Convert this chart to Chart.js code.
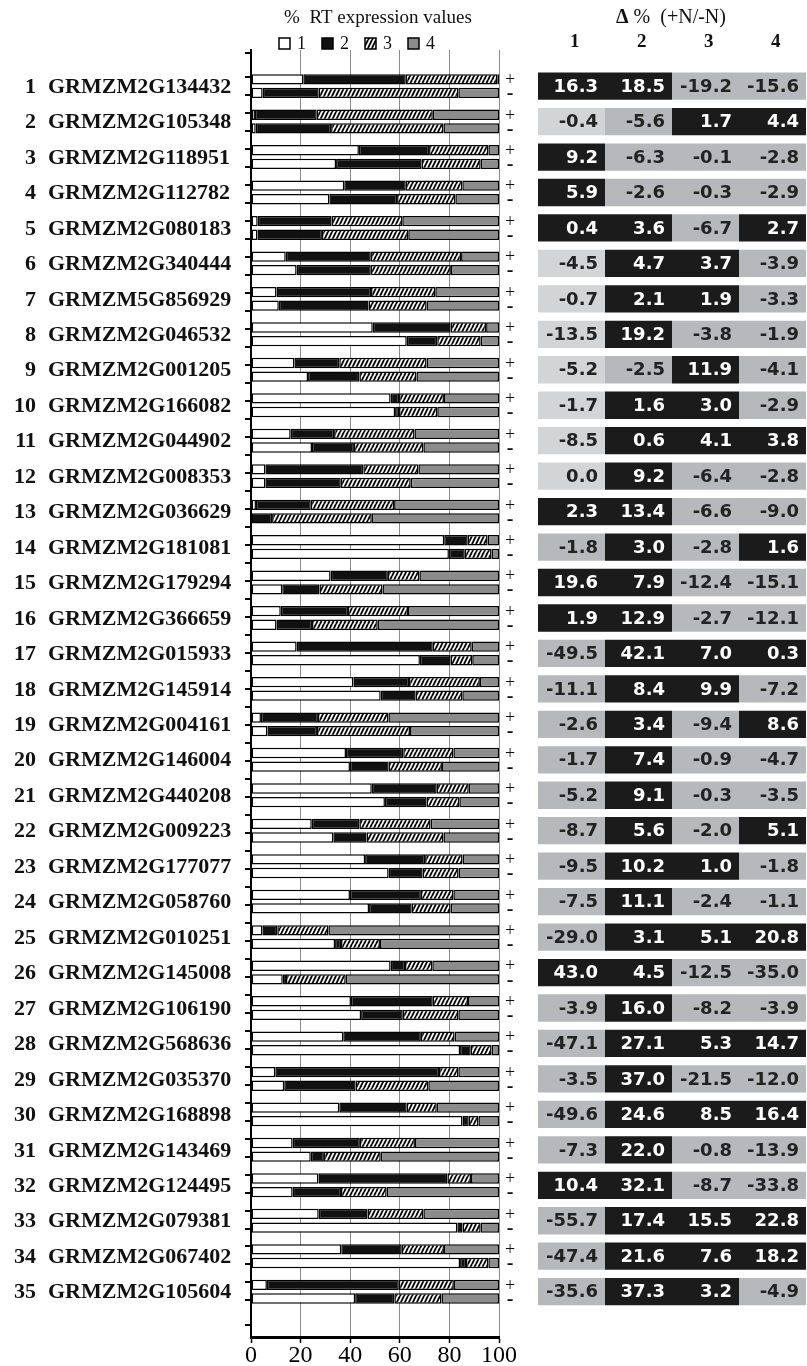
<!DOCTYPE html>
<html>
<head>
<meta charset="utf-8">
<script src="https://cdn.jsdelivr.net/npm/chart.js@4.4.0/dist/chart.umd.min.js"></script>
<style>
  html, body { margin: 0; padding: 0; background: #fff; }
  #wrap { position: relative; width: 807px; height: 1366px; }
  #bars { position: absolute; left: 0; top: 0; }
  #table { position: absolute; left: 535px; top: 0; }
</style>
</head>
<body>
<div id="wrap">
  <canvas id="bars" width="535" height="1366"></canvas>
  <canvas id="table" width="272" height="1366"></canvas>
</div>
<script>
'use strict';

// ─── DATA ────────────────────────────────────────────────────────────────────
const GENES = [
  'GRMZM2G134432','GRMZM2G105348','GRMZM2G118951','GRMZM2G112782','GRMZM2G080183',
  'GRMZM2G340444','GRMZM5G856929','GRMZM2G046532','GRMZM2G001205','GRMZM2G166082',
  'GRMZM2G044902','GRMZM2G008353','GRMZM2G036629','GRMZM2G181081','GRMZM2G179294',
  'GRMZM2G366659','GRMZM2G015933','GRMZM2G145914','GRMZM2G004161','GRMZM2G146004',
  'GRMZM2G440208','GRMZM2G009223','GRMZM2G177077','GRMZM2G058760','GRMZM2G010251',
  'GRMZM2G145008','GRMZM2G106190','GRMZM2G568636','GRMZM2G035370','GRMZM2G168898',
  'GRMZM2G143469','GRMZM2G124495','GRMZM2G079381','GRMZM2G067402','GRMZM2G105604'
];
const SEG_LABELS = ['1', '2', '3', '4'];
const SIGNS = ['+', '-'];

// % RT expression, +N bars (segments 1..4)
const PLUS_1 = [21.1, 1.6, 43.5, 37.6, 2.7, 14.0, 10.3, 49.1, 17.5, 56.3, 16.0, 5.8, 2.0, 77.9, 32.1, 12.0, 18.4, 41.3, 4.0, 38.3, 48.7, 24.5, 46.0, 39.9, 4.6, 56.3, 40.3, 37.2, 9.8, 35.6, 16.8, 27.2, 27.3, 36.4, 6.4];
const PLUS_2 = [41.3, 24.9, 28.3, 24.8, 29.8, 34.3, 38.1, 31.4, 18.1, 3.4, 17.5, 39.5, 22.1, 9.5, 23.1, 27.1, 54.9, 22.4, 23.0, 23.1, 26.2, 19.2, 24.2, 28.6, 6.0, 5.8, 33.0, 31.3, 66.0, 27.2, 27.1, 52.0, 19.7, 24.4, 53.2];
const PLUS_3 = [36.9, 46.8, 23.9, 22.8, 28.5, 36.4, 25.9, 14.3, 35.2, 18.1, 32.4, 22.2, 33.6, 8.0, 12.7, 24.2, 15.7, 28.6, 28.4, 20.2, 12.9, 28.7, 15.1, 13.1, 20.6, 11.0, 14.2, 13.6, 7.8, 12.1, 22.2, 9.5, 22.5, 17.0, 22.2];
const PLUS_4 = [0.7, 26.7, 4.3, 14.8, 39.0, 15.3, 25.7, 5.2, 29.2, 22.2, 34.1, 32.5, 42.3, 4.6, 32.1, 36.7, 11.0, 7.7, 44.6, 18.4, 12.2, 27.6, 14.7, 18.4, 68.8, 26.9, 12.5, 17.9, 16.4, 25.1, 33.9, 11.3, 30.5, 22.2, 18.2];

// % RT expression, -N bars (segments 1..4)
const MINUS_1 = [4.7, 1.9, 34.3, 31.6, 2.6, 18.4, 11.2, 62.8, 23.0, 58.1, 24.6, 5.8, 0, 79.8, 12.6, 10.3, 68.1, 52.3, 6.6, 39.9, 54.0, 33.2, 55.5, 47.6, 33.9, 12.8, 44.4, 84.3, 13.4, 85.3, 24.1, 16.8, 83.2, 84.3, 42.0];
const MINUS_2 = [22.6, 30.4, 34.5, 27.3, 26.0, 29.9, 36.2, 12.3, 20.7, 1.6, 16.9, 30.4, 8.5, 6.4, 15.0, 14.3, 12.4, 14.1, 20.0, 15.6, 16.8, 13.4, 13.7, 17.2, 2.4, 1.3, 16.8, 4.3, 28.8, 2.5, 5.3, 19.5, 2.1, 2.4, 15.8];
const MINUS_3 = [56.3, 45.3, 23.8, 23.5, 34.8, 32.3, 23.4, 17.5, 23.0, 15.4, 28.0, 28.2, 40.2, 10.8, 25.4, 26.5, 8.7, 18.8, 37.5, 21.5, 13.2, 31.0, 14.5, 15.7, 15.7, 24.1, 22.4, 8.4, 29.3, 3.9, 22.9, 18.4, 7.3, 9.0, 19.0];
const MINUS_4 = [16.4, 22.4, 7.4, 17.6, 36.6, 19.4, 29.2, 7.4, 33.3, 24.9, 30.5, 35.6, 51.3, 3.0, 47.0, 48.9, 10.8, 14.8, 35.9, 23.0, 16.0, 22.4, 16.3, 19.5, 48.0, 61.8, 16.4, 3.0, 28.5, 8.3, 47.7, 45.3, 7.4, 4.3, 23.2];

const X_TICKS = [0, 20, 40, 60, 80, 100];

// Δ % (+N/-N), columns 1..4
const DELTA_1 = [16.3, -0.4, 9.2, 5.9, 0.4, -4.5, -0.7, -13.5, -5.2, -1.7, -8.5, 0.0, 2.3, -1.8, 19.6, 1.9, -49.5, -11.1, -2.6, -1.7, -5.2, -8.7, -9.5, -7.5, -29.0, 43.0, -3.9, -47.1, -3.5, -49.6, -7.3, 10.4, -55.7, -47.4, -35.6];
const DELTA_2 = [18.5, -5.6, -6.3, -2.6, 3.6, 4.7, 2.1, 19.2, -2.5, 1.6, 0.6, 9.2, 13.4, 3.0, 7.9, 12.9, 42.1, 8.4, 3.4, 7.4, 9.1, 5.6, 10.2, 11.1, 3.1, 4.5, 16.0, 27.1, 37.0, 24.6, 22.0, 32.1, 17.4, 21.6, 37.3];
const DELTA_3 = [-19.2, 1.7, -0.1, -0.3, -6.7, 3.7, 1.9, -3.8, 11.9, 3.0, 4.1, -6.4, -6.6, -2.8, -12.4, -2.7, 7.0, 9.9, -9.4, -0.9, -0.3, -2.0, 1.0, -2.4, 5.1, -12.5, -8.2, 5.3, -21.5, 8.5, -0.8, -8.7, 15.5, 7.6, 3.2];
const DELTA_4 = [-15.6, 4.4, -2.8, -2.9, 2.7, -3.9, -3.3, -1.9, -4.1, -2.9, 3.8, -2.8, -9.0, 1.6, -15.1, -12.1, 0.3, -7.2, 8.6, -4.7, -3.5, 5.1, -1.8, -1.1, 20.8, -35.0, -3.9, 14.7, -12.0, 16.4, -13.9, -33.8, 22.8, 18.2, -4.9];
// cell shade per gene: B = black, G = grey, L = light grey
const SHADES = [
  'BBGG','LGBB','BGGG','BGGG','BBGB','LBBG','LBBG','LBGG','LGBG','LBBG',
  'LBBB','LBGG','BBGG','GBGB','BBGG','BBGG','GBBB','GBBG','GBGB','GBGG',
  'GBGG','GBGB','GBBG','GBGG','GBBB','BBGG','GBGG','GBBB','GBGG','GBBB',
  'GBGG','BBGG','GBBB','GBBB','GBBG'
];
const COL_HEADS = ['1', '2', '3', '4'];

const TITLE_LEFT = '%  RT expression values';
const TITLE_RIGHT = ['Δ', ' %  (+N/-N)'];

// ─── STYLE ───────────────────────────────────────────────────────────────────
const SERIF = '"Liberation Serif", "Times New Roman", serif';
const SANS = '"DejaVu Sans", "Liberation Sans", sans-serif';
const Y_MIN = -0.5, Y_MAX = 34.76;
const SHADE_COLORS = { B: '#1b1b1b', G: '#b7b8bb', L: '#d3d4d6' };

const barCanvas = document.getElementById('bars');
const barCtx = barCanvas.getContext('2d');

function makeHatch(ctx) {
  const tile = document.createElement('canvas');
  tile.width = 4; tile.height = 8;
  const g = tile.getContext('2d');
  g.fillStyle = '#fff';
  g.fillRect(0, 0, 4, 8);
  g.strokeStyle = '#000';
  g.lineWidth = 1.9;
  for (const o of [-4, 0, 4]) {
    g.beginPath(); g.moveTo(o, 8); g.lineTo(o + 4, 0); g.stroke();
  }
  return ctx.createPattern(tile, 'repeat');
}
const FILLS = ['#ffffff', '#111111', makeHatch(barCtx), '#8c8c8c'];

// ─── BAR CHART ───────────────────────────────────────────────────────────────
const datasets = [];
[['plus', [PLUS_1, PLUS_2, PLUS_3, PLUS_4]], ['minus', [MINUS_1, MINUS_2, MINUS_3, MINUS_4]]]
  .forEach(([stack, segs]) => {
    segs.forEach((arr, k) => {
      datasets.push({
        label: SEG_LABELS[k],
        stack,
        data: arr.map((v, i) => ({ x: v, y: i })),
        backgroundColor: FILLS[k],
        borderColor: '#000',
        borderWidth: 1.5,
        borderSkipped: false,
        barPercentage: 0.76,
        categoryPercentage: 0.767
      });
    });
  });

// left axis tick marks sit at the outer edges of each bar pair
const EDGE_TICKS = [];
GENES.forEach((g, i) => { EDGE_TICKS.push({ value: i - 0.34 }, { value: i + 0.34 }); });

const barDecor = {
  id: 'barDecor',
  afterDraw(chart) {
    const { ctx, chartArea } = chart;
    const ys = chart.scales.y;
    ctx.save();
    ctx.fillStyle = '#111';
    ctx.textBaseline = 'middle';

    // title
    ctx.textAlign = 'center';
    ctx.font = `19px ${SERIF}`;
    ctx.fillText(TITLE_LEFT, (chartArea.left + chartArea.right) / 2 + 3, 18);

    // legend
    let lx = 279;
    ctx.textAlign = 'left';
    ctx.font = `18px ${SERIF}`;
    chart.data.datasets.slice(0, 4).forEach(ds => {
      ctx.fillStyle = ds.backgroundColor;
      ctx.fillRect(lx, 38, 11, 11);
      ctx.lineWidth = 1.5;
      ctx.strokeStyle = '#000';
      ctx.strokeRect(lx, 38, 11, 11);
      ctx.fillStyle = '#111';
      ctx.fillText(ds.label, lx + 18, 44);
      lx += 18 + ctx.measureText(ds.label).width + 16;
    });

    // gene labels
    ctx.font = `bold 22px ${SERIF}`;
    GENES.forEach((g, i) => {
      const y = ys.getPixelForValue(i) + 1;
      ctx.textAlign = 'right';
      ctx.fillText(String(i + 1), 36, y);
      ctx.textAlign = 'left';
      ctx.fillText(g, 48, y);
    });

    // + / - markers
    ctx.textAlign = 'center';
    [0, 4].forEach((dsIndex, s) => {
      ctx.font = s === 0 ? `18px ${SERIF}` : `bold 20px ${SERIF}`;
      chart.getDatasetMeta(dsIndex).data.forEach(el => {
        ctx.fillText(SIGNS[s], chartArea.right + 11, el.y + 1);
      });
    });
    ctx.restore();
  }
};

const barChart = new Chart(barCtx, {
  type: 'bar',
  data: { datasets },
  options: {
    indexAxis: 'y',
    responsive: false,
    animation: false,
    events: [],
    layout: { padding: { top: 50, left: 245, right: 36, bottom: 0 } },
    plugins: { legend: { display: false }, title: { display: false }, tooltip: { enabled: false } },
    scales: {
      x: {
        type: 'linear', min: 0, max: 100, stacked: true, position: 'bottom',
        afterBuildTicks: s => { s.ticks = X_TICKS.map(v => ({ value: v })); },
        ticks: { color: '#000', padding: 1, font: { family: SERIF, size: 24, lineHeight: 1 } },
        grid: { color: '#8a8a8a', lineWidth: 1, tickColor: '#000', tickWidth: 1.5, tickLength: 6 },
        border: { color: '#000', width: 3 },
        afterFit: s => { s.height = 29; }
      },
      y: {
        type: 'linear', display: false, min: Y_MIN, max: Y_MAX, reverse: true, stacked: true,
        afterBuildTicks: s => { s.ticks = GENES.map((g, i) => ({ value: i })); }
      },
      y2: {
        type: 'linear', position: 'left', min: Y_MIN, max: Y_MAX, reverse: true,
        afterBuildTicks: s => { s.ticks = EDGE_TICKS.slice(); },
        ticks: { display: false },
        grid: { drawOnChartArea: false, color: '#000', lineWidth: 2, tickLength: 6 },
        border: { color: '#000', width: 2 },
        afterFit: s => { s.width = 6; }
      }
    }
  },
  plugins: [barDecor]
});

// ─── DELTA TABLE ─────────────────────────────────────────────────────────────
const DELTAS = [DELTA_1, DELTA_2, DELTA_3, DELTA_4];

const tableDecor = {
  id: 'tableDecor',
  afterDatasetsDraw(chart) {
    const { ctx } = chart;
    const xs = chart.scales.x;
    ctx.save();
    ctx.textBaseline = 'middle';

    // cell values
    ctx.textAlign = 'right';
    ctx.font = `bold 18px ${SANS}`;
    DELTAS.forEach((col, c) => {
      const right = xs.getPixelForValue(c + 1);
      chart.getDatasetMeta(c).data.forEach((el, i) => {
        ctx.fillStyle = SHADES[i][c] === 'B' ? '#ffffff' : '#222222';
        ctx.fillText(col[i].toFixed(1), right - 7, el.y + 1);
      });
    });

    // column heads
    ctx.fillStyle = '#111';
    ctx.textAlign = 'center';
    ctx.font = `bold 19px ${SERIF}`;
    COL_HEADS.forEach((h, c) => ctx.fillText(h, xs.getPixelForValue(c + 0.55), 42));

    // title: bold delta + regular rest
    const boldFont = `bold 20px ${SERIF}`, regFont = `20px ${SERIF}`;
    ctx.font = boldFont;
    const w1 = ctx.measureText(TITLE_RIGHT[0]).width;
    ctx.font = regFont;
    const w2 = ctx.measureText(TITLE_RIGHT[1]).width;
    const tx = 136 - (w1 + w2) / 2;
    ctx.textAlign = 'left';
    ctx.font = boldFont;
    ctx.fillText(TITLE_RIGHT[0], tx, 18);
    ctx.font = regFont;
    ctx.fillText(TITLE_RIGHT[1], tx + w1, 18);
    ctx.restore();
  }
};

const tableChart = new Chart(document.getElementById('table'), {
  type: 'bar',
  data: {
    datasets: DELTAS.map((col, c) => ({
      label: COL_HEADS[c],
      data: col.map((v, i) => ({ x: [c, c + 1], y: i })),
      backgroundColor: ctx => SHADE_COLORS[SHADES[ctx.dataIndex][c]],
      borderWidth: 0,
      grouped: false,
      barPercentage: 0.77,
      categoryPercentage: 1
    }))
  },
  options: {
    indexAxis: 'y',
    responsive: false,
    animation: false,
    events: [],
    layout: { padding: { top: 50, left: 3, right: 1, bottom: 29 } },
    plugins: { legend: { display: false }, title: { display: false }, tooltip: { enabled: false } },
    scales: {
      x: { type: 'linear', display: false, min: 0, max: 4 },
      y: {
        type: 'linear', display: false, min: Y_MIN, max: Y_MAX, reverse: true,
        afterBuildTicks: s => { s.ticks = GENES.map((g, i) => ({ value: i })); }
      }
    }
  },
  plugins: [tableDecor]
});
</script>
</body>
</html>
